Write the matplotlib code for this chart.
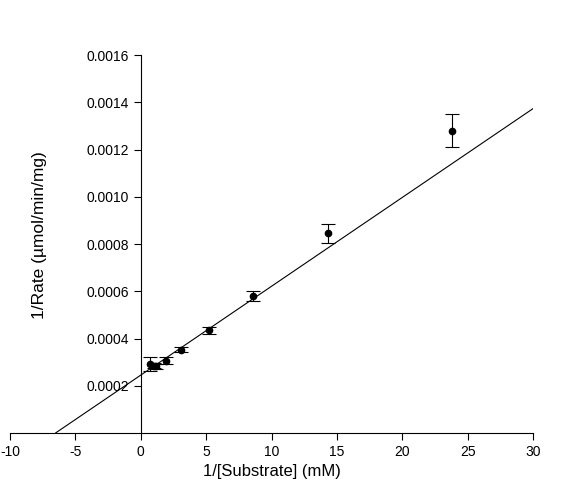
import matplotlib.pyplot as plt
import numpy as np

# data
inv_s = [0.7, 1.0, 1.2, 1.9, 3.1, 5.2, 8.6, 14.3, 23.8]
inv_rate = [0.000292, 0.000285, 0.000283, 0.000305, 0.000352, 0.000435, 0.00058, 0.000845, 0.00128]
err = [0.00003, 0.00001, 0.00001, 0.000015, 0.00001, 0.000015, 0.00002, 0.00004, 0.00007]
slope = 3.76e-5
intercept = 0.000245
line_x = [-6.5, 30]

plt.rcParams['font.family'] = 'Liberation Sans'
plt.rcParams['axes.unicode_minus'] = False

fig = plt.figure(figsize=(5.63, 4.97), dpi=100)
ax = fig.add_axes([10/563, 1-433/497, 523/563, 378/497])

ax.errorbar(inv_s, inv_rate, yerr=err, fmt='o', color='black', ms=4.5,
            capsize=5, elinewidth=0.8, capthick=0.8)
lx = np.array(line_x)
ax.plot(lx, slope * lx + intercept, color='black', lw=0.8)

ax.set_xlim(-10, 30)
ax.set_ylim(0, 0.0016)
ax.spines['top'].set_visible(False)
ax.spines['right'].set_visible(False)
ax.spines['left'].set_position(('data', 0))
ax.set_xticks(range(-10, 31, 5))
ax.set_yticks(np.arange(0.0002, 0.00161, 0.0002))
ax.set_yticklabels([f"{v:.4f}" for v in np.arange(0.0002, 0.00161, 0.0002)])
ax.tick_params(labelsize=10, direction='out', length=5)
ax.set_xlabel("1/[Substrate] (mM)", fontsize=12)
fig.text(40/563, 1-235/497, "1/Rate (µmol/min/mg)", rotation=90, fontsize=12.5,
         va='center', ha='center')

fig.savefig("out.png", dpi=100)
